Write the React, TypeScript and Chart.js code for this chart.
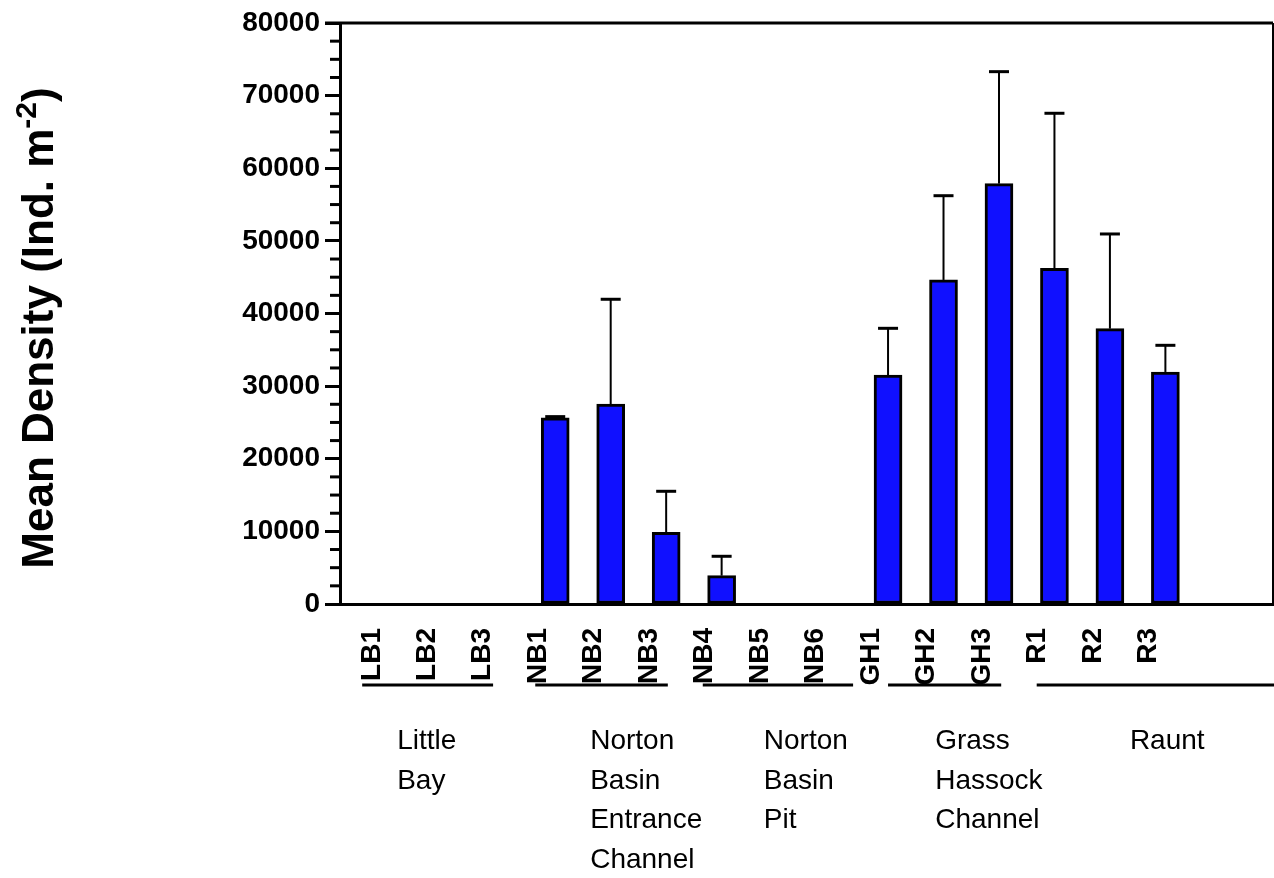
import React, { useEffect, useRef } from 'react';
import { Chart, registerables } from 'chart.js';

Chart.register(...registerables);

// ---------- data ----------
const categories = ['LB1', 'LB2', 'LB3', 'NB1', 'NB2', 'NB3', 'NB4', 'NB5', 'NB6', 'GH1', 'GH2', 'GH3', 'R1', 'R2', 'R3'];
const meanDensity = [0, 0, 0, 25650, 27540, 9870, 3900, 0, 0, 31530, 44620, 57880, 46230, 37910, 31950];
const errorUpper = [0, 0, 0, 150, 14420, 5650, 2670, 0, 0, 6430, 11600, 15420, 21340, 13040, 3670];
const yTickValues = [0, 10000, 20000, 30000, 40000, 50000, 60000, 70000, 80000];
const groupNames = [
  ['Little', 'Bay'],
  ['Norton', 'Basin', 'Entrance', 'Channel'],
  ['Norton', 'Basin', 'Pit'],
  ['Grass', 'Hassock', 'Channel'],
  ['Raunt'],
];

// ---------- layout (positions in x-axis index units / pixels) ----------
const GROUP_LINE_START = [-0.48, 2.64, 5.66, 9.0, 11.68];
const GROUP_LINE_END = [1.88, 5.03, 8.37, 11.04, 15.96];
const GROUP_LABEL_X = [0.15, 3.63, 6.76, 9.85, 13.36];
const FONT = '"Liberation Sans", Arial, Helvetica, sans-serif';
const BAR_BLUE = '#1010ff';

const decorPlugin = {
  id: 'decor',
  afterDatasetsDraw(chart: any) {
    const { ctx, scales } = chart;
    const xs = scales.x;
    const ys = scales.y;
    ctx.save();
    ctx.strokeStyle = '#000';
    // error bars
    for (let i = 0; i < categories.length; i++) {
      const m = meanDensity[i];
      const e = errorUpper[i];
      if (!e) continue;
      const x = xs.getPixelForValue(i);
      const yb = ys.getPixelForValue(m);
      const yt = ys.getPixelForValue(m + e);
      ctx.lineWidth = 2;
      ctx.beginPath();
      ctx.moveTo(x, yb);
      ctx.lineTo(x, yt);
      ctx.stroke();
      ctx.lineWidth = 3;
      ctx.beginPath();
      ctx.moveTo(x - 10, yt);
      ctx.lineTo(x + 10, yt);
      ctx.stroke();
    }
    ctx.restore();
  },
  afterDraw(chart: any) {
    const { ctx, scales, chartArea } = chart;
    const xs = scales.x;
    const ys = scales.y;
    ctx.save();
    ctx.strokeStyle = '#000';
    // frame top & right
    ctx.lineWidth = 3;
    ctx.beginPath();
    ctx.moveTo(chartArea.left - 15, chartArea.top);
    ctx.lineTo(chartArea.right, chartArea.top);
    ctx.stroke();
    ctx.lineWidth = 2;
    ctx.beginPath();
    ctx.moveTo(chartArea.right, chartArea.top);
    ctx.lineTo(chartArea.right, chartArea.bottom);
    ctx.stroke();
    // minor ticks
    ctx.lineWidth = 3;
    for (let v = 2500; v < 80000; v += 2500) {
      if (v % 10000 === 0) continue;
      const y = ys.getPixelForValue(v);
      ctx.beginPath();
      ctx.moveTo(chartArea.left - 10, y);
      ctx.lineTo(chartArea.left, y);
      ctx.stroke();
    }
    // group lines and labels
    const lineY = 685;
    ctx.lineWidth = 3;
    ctx.fillStyle = '#000';
    ctx.font = `28px ${FONT}`;
    ctx.textAlign = 'left';
    ctx.textBaseline = 'alphabetic';
    for (let g = 0; g < groupNames.length; g++) {
      const x1 = xs.getPixelForValue(GROUP_LINE_START[g]);
      const x2 = Math.min(xs.getPixelForValue(GROUP_LINE_END[g]), chart.width);
      ctx.beginPath();
      ctx.moveTo(x1, lineY);
      ctx.lineTo(x2, lineY);
      ctx.stroke();
      const lx = xs.getPixelForValue(GROUP_LABEL_X[g]);
      groupNames[g].forEach((t, k) => {
        ctx.fillText(t, lx, 749 + k * 39.5);
      });
    }
    // y-axis title with superscript
    const main = 'Mean Density (Ind. m';
    const sup = '-2';
    const tail = ')';
    const mainFont = `bold 44px ${FONT}`;
    const supFont = `bold 30px ${FONT}`;
    ctx.font = mainFont;
    const wMain = ctx.measureText(main).width;
    const wTail = ctx.measureText(tail).width;
    ctx.font = supFont;
    const wSup = ctx.measureText(sup).width;
    const total = wMain + wSup + wTail;
    ctx.translate(53, 328);
    ctx.rotate(-Math.PI / 2);
    let cx = -total / 2;
    ctx.font = mainFont;
    ctx.fillText(main, cx, 0);
    cx += wMain;
    ctx.font = supFont;
    ctx.fillText(sup, cx, -17);
    cx += wSup;
    ctx.font = mainFont;
    ctx.fillText(tail, cx, 0);
    ctx.restore();
  },
};

export default function App() {
  const canvasRef = useRef<HTMLCanvasElement | null>(null);
  useEffect(() => {
    const canvas = canvasRef.current;
    if (!canvas) return;
    const chart = new Chart(canvas, {
      type: 'bar',
      data: {
        datasets: [
          {
            data: categories.map((_, i) => ({ x: i, y: meanDensity[i] })),
            backgroundColor: BAR_BLUE,
            borderColor: '#000',
            borderWidth: 3,
            borderSkipped: false,
            barThickness: 28,
          } as any,
        ],
      },
      options: {
        animation: false,
        responsive: true,
        maintainAspectRatio: false,
        devicePixelRatio: 1,
        layout: { padding: { left: 0, top: 23, right: 1, bottom: 0 } },
        plugins: {
          legend: { display: false },
          title: { display: false },
          tooltip: { enabled: false },
        },
        scales: {
          x: {
            type: 'linear',
            min: -0.88,
            max: 15.94,
            offset: false,
            afterBuildTicks: (scale: any) => {
              scale.ticks = categories.map((_, i) => ({ value: i }));
            },
            afterFit: (scale: any) => {
              scale.height = 274;
            },
            grid: { display: true, drawOnChartArea: false, drawTicks: false },
            border: { display: true, color: '#000', width: 3 },
            ticks: {
              autoSkip: false,
              minRotation: 90,
              maxRotation: 90,
              padding: 24,
              labelOffset: -17,
              color: '#000',
              font: { family: FONT, size: 28, weight: 'bold' },
              callback: (v: any) => {
                const i = Number(v);
                return Number.isInteger(i) && i >= 0 && i < categories.length ? categories[i] : '';
              },
            },
          },
          y: {
            type: 'linear',
            min: 0,
            max: 80000,
            afterBuildTicks: (scale: any) => {
              scale.ticks = yTickValues.map((v) => ({ value: v }));
            },
            afterFit: (scale: any) => {
              scale.width = 340;
            },
            grid: {
              drawOnChartArea: false,
              drawTicks: true,
              tickLength: 15,
              tickWidth: 3,
              tickColor: '#000',
            },
            border: { display: true, color: '#000', width: 3 },
            ticks: {
              padding: 5,
              color: '#000',
              font: { family: FONT, size: 28, weight: 'bold' },
              callback: (v: any) => String(v),
            },
          },
        },
      } as any,
      plugins: [decorPlugin],
    });
    return () => chart.destroy();
  }, []);
  return (
    <div style={{ position: 'fixed', left: 0, top: 0, width: 1274, height: 878, background: '#fff' }}>
      <canvas ref={canvasRef} />
    </div>
  );
}
